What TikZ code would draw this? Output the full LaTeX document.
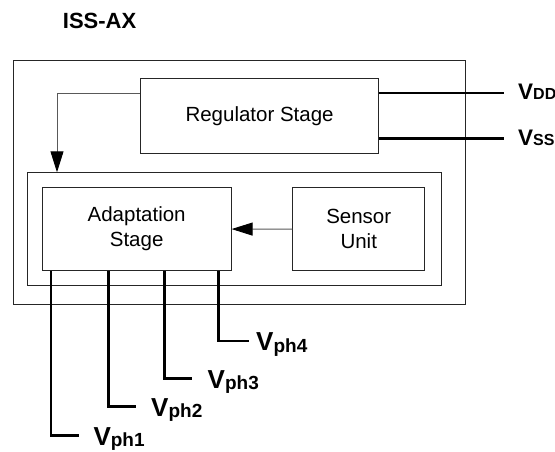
\documentclass[tikz,border=0pt]{standalone}
\usepackage{fontspec}
\setmainfont{Liberation Sans}
\usetikzlibrary{arrows.meta}
\begin{document}
\begin{tikzpicture}[x=1pt,y=-1pt,
  box/.style={draw=black!85, line width=0.9pt, fill=white, inner sep=0pt, anchor=north west},
  boxtxt/.style={font=\fontsize{20.5}{25}\selectfont, align=center},
  conn/.style={draw=black!65, line width=0.9pt},
  tipped/.style={-{Triangle[length=21pt,width=13pt,color=black]}},
  pin/.style={line width=2.8pt, line cap=butt, line join=miter},
  lbl/.style={anchor=base west, inner sep=0pt, font=\bfseries}
]
\useasboundingbox (0,0) rectangle (555,451);
% boxes
\node[box, minimum width=452.3pt, minimum height=244.5pt] (outer) at (13,59.5) {};
\node[box, boxtxt, minimum width=238.3pt, minimum height=75pt] (reg) at (140,78) {Regulator Stage};
\node[box, minimum width=414.6pt, minimum height=113pt] (inner) at (26.7,172.3) {};
\node[box, boxtxt, minimum width=189pt, minimum height=82.8pt] (adapt) at (41.7,187.2) {Adaptation\\Stage};
\node[box, boxtxt, minimum width=132pt, minimum height=82.7pt] (sensor) at (292.3,187.3) {Sensor\\Unit};
% title
\node[lbl, font=\bfseries\fontsize{22}{22}\selectfont] (title) at (62.7,28) {ISS-AX};
% supply lines
\coordinate (vddend) at (504,93);
\coordinate (vssend) at (504,138.7);
\draw[pin] (reg.east |- vddend) -- (vddend);
\draw[pin] (reg.east |- vssend) -- (vssend);
\node[lbl] (vdd) at (518,99.5) {\fontsize{22.5}{22.5}\selectfont V\fontsize{16}{16}\selectfont DD};
\node[lbl] (vss) at (518,145.2) {\fontsize{22.5}{22.5}\selectfont V\fontsize{16}{16}\selectfont SS};
% connectors
\coordinate (bend) at (57,93);
\draw[conn, tipped] (reg.west |- bend) -- (bend) -- (bend |- inner.north);
\draw[conn, tipped] (sensor.west) -- (adapt.east);
% phase outputs
\coordinate (c1) at (51,435.7);   \coordinate (e1) at (79.3,435.7);
\coordinate (c2) at (108.7,406.7); \coordinate (e2) at (136,406.7);
\coordinate (c3) at (164.3,378.7); \coordinate (e3) at (192.3,378.7);
\coordinate (c4) at (218.3,341);   \coordinate (e4) at (249.3,341);
\draw[pin] (c1 |- adapt.south) -- (c1) -- (e1);
\draw[pin] (c2 |- adapt.south) -- (c2) -- (e2);
\draw[pin] (c3 |- adapt.south) -- (c3) -- (e3);
\draw[pin] (c4 |- adapt.south) -- (c4) -- (e4);
\node[lbl] (l1) at (93.3,445.2) {\fontsize{26}{26}\selectfont V\raisebox{-1.5pt}{\fontsize{19}{19}\selectfont ph1}};
\node[lbl] (l2) at (151,416.2) {\fontsize{26}{26}\selectfont V\raisebox{-1.5pt}{\fontsize{19}{19}\selectfont ph2}};
\node[lbl] (l3) at (207.5,388.2) {\fontsize{26}{26}\selectfont V\raisebox{-1.5pt}{\fontsize{19}{19}\selectfont ph3}};
\node[lbl] (l4) at (256,350.5) {\fontsize{26}{26}\selectfont V\raisebox{-1.5pt}{\fontsize{19}{19}\selectfont ph4}};
\end{tikzpicture}
\end{document}
